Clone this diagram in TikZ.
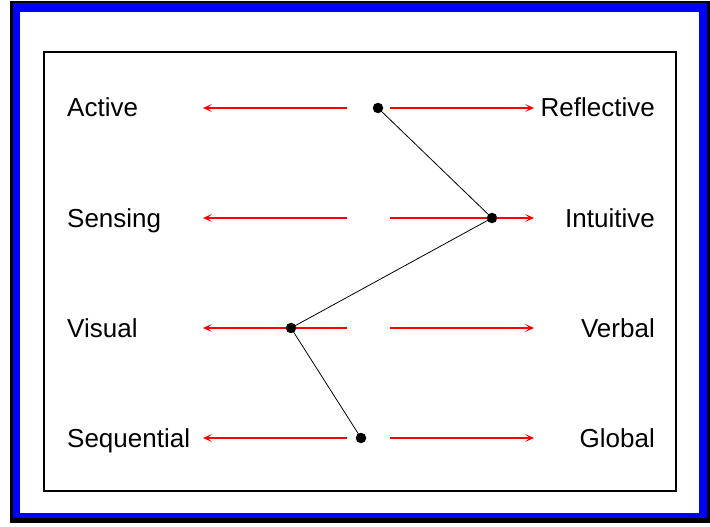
\documentclass[tikz,border=0pt]{standalone}
\usepackage{fontspec}
\setmainfont{Liberation Sans}
\usetikzlibrary{arrows.meta}
\tikzset{
    dim/.style={draw=red, line width=1.5pt, -{Stealth[length=9pt, width=8pt, inset=4.5pt]}},
    lbl/.style={inner sep=0pt, font=\fontsize{26pt}{30pt}\selectfont},
    dot/.style={circle, fill=black, inner sep=0pt, minimum size=10.5pt},
}
\begin{document}
\begin{tikzpicture}[x=1pt, y=-1pt]
        \useasboundingbox (0, 0) rectangle (710, 527);
        \fill[black] (10, 1) rectangle (710, 523);
        \fill[blue] (13, 3) rectangle (707, 518);
        \fill[white] (20, 12) rectangle (699, 513);
        \draw[line width=2pt, draw=black] (44, 52) rectangle (676, 491);
        \node[lbl, anchor=base west] at (67, 117) (active) {Active};
        \node[lbl, anchor=base west] at (67, 227) (sensing) {Sensing};
        \node[lbl, anchor=base west] at (67, 337) (visual) {Visual};
        \node[lbl, anchor=base west] at (67, 447) (sequential) {Sequential};
        \node[lbl, anchor=base east] at (655, 117) (reflective) {Reflective};
        \node[lbl, anchor=base east] at (655, 227) (intuitive) {Intuitive};
        \node[lbl, anchor=base east] at (655, 337) (verbal) {Verbal};
        \node[lbl, anchor=base east] at (655, 447) (global) {Global};
        \coordinate (l1) at (347, 108); \coordinate (lt1) at (203, 108);
        \coordinate (l2) at (347, 218); \coordinate (lt2) at (203, 218);
        \coordinate (l3) at (347, 328); \coordinate (lt3) at (203, 328);
        \coordinate (l4) at (347, 438); \coordinate (lt4) at (203, 438);
        \coordinate (r1) at (390, 108); \coordinate (rt1) at (534, 108);
        \coordinate (r2) at (390, 218); \coordinate (rt2) at (534, 218);
        \coordinate (r3) at (390, 328); \coordinate (rt3) at (534, 328);
        \coordinate (r4) at (390, 438); \coordinate (rt4) at (534, 438);
        \draw[dim] (l1) -- (lt1);
        \draw[dim] (l2) -- (lt2);
        \draw[dim] (l3) -- (lt3);
        \draw[dim] (l4) -- (lt4);
        \draw[dim] (r1) -- (rt1);
        \draw[dim] (r2) -- (rt2);
        \draw[dim] (r3) -- (rt3);
        \draw[dim] (r4) -- (rt4);
        \node[dot] at (378, 108) (d1) {};
        \node[dot] at (492, 218) (d2) {};
        \node[dot] at (291, 328) (d3) {};
        \node[dot] at (361, 438) (d4) {};
        \draw[line width=0.8pt] (d1.center) -- (d2.center) -- (d3.center) -- (d4.center);
\end{tikzpicture}
\end{document}
